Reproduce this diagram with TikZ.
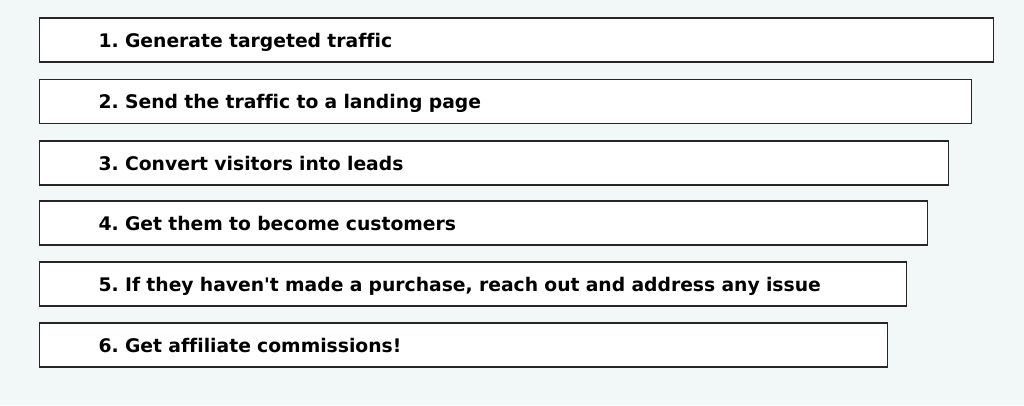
\documentclass[tikz,border=0pt]{standalone}
\usepackage{fontspec}
\setmainfont[Ligatures={NoCommon}]{DejaVu Sans}
\usetikzlibrary{positioning}
\definecolor{bgpage}{RGB}{242,247,247}
\tikzset{
    stepbox/.style={draw=black!85, line width=1.3pt, fill=white, anchor=west,
        minimum height=44pt, inner xsep=59pt, align=left,
        text height=15pt, text depth=1pt,
        font=\fontsize{18.75}{22}\selectfont\bfseries}
}

\begin{document}
\frenchspacing
\begin{tikzpicture}[x=1pt, y=-1pt]
    \fill[bgpage] (0, 0) rectangle (1024, 405);
    \useasboundingbox (0, 0) rectangle (1024, 405);

    \node[stepbox, text width=836pt] (s1) at (39, 40) {1. Generate targeted traffic};
    \node[stepbox, text width=814pt] (s2) at (39, 101.5) {2. Send the traffic to a landing page};
    \node[stepbox, text width=791pt] (s3) at (39, 163) {3. Convert visitors into leads};
    \node[stepbox, text width=770pt] (s4) at (39, 223) {4. Get them to become customers};
    \node[stepbox, text width=749pt] (s5) at (39, 284) {5. If they haven\textquotesingle t made a purchase, reach out and address any issue};
    \node[stepbox, text width=730pt] (s6) at (39, 345) {6. Get affiliate commissions!};
\end{tikzpicture}
\end{document}
